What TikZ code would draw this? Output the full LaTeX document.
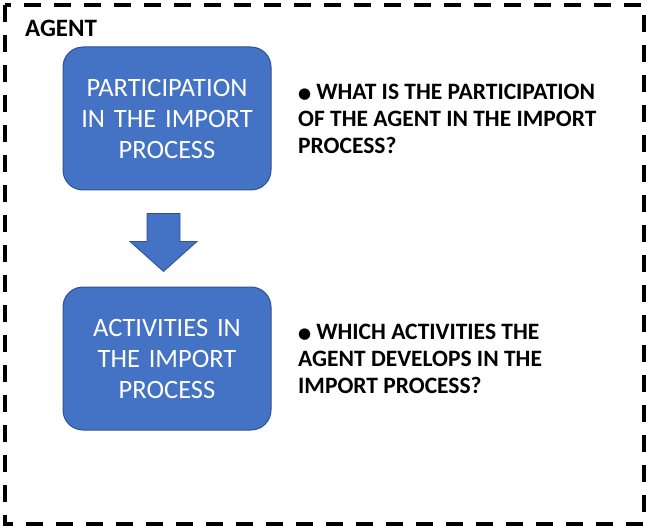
\documentclass[tikz,border=0pt]{standalone}
\usepackage{fontspec}
\setmainfont{Carlito}
\newfontfamily\dvfont{DejaVu Sans}
\usetikzlibrary{calc}
\definecolor{boxfill}{HTML}{4472C4}
\definecolor{boxline}{HTML}{2F528F}
\tikzset{
  bluebox/.style={draw=boxline, line width=1pt, fill=boxfill, rounded corners=20pt,
    minimum width=208pt, minimum height=143pt, text width=206pt, align=center,
    text=white, inner sep=0pt, font=\fontsize{26.5}{31}\selectfont},
  question/.style={anchor=west, align=left, inner sep=0pt,
    font=\bfseries\fontsize{23.5}{27}\selectfont},
  blockarrow/.style={draw=boxline, line width=0.8pt, fill=boxfill},
  frame/.style={draw=black, line width=4.5pt, dash pattern=on 17pt off 13pt}
}
\newcommand{\qbullet}{\raisebox{1.5pt}{\dvfont\fontsize{15}{15}\selectfont ●}\hspace{5pt}}
\begin{document}
\begin{tikzpicture}[x=1pt,y=-1pt]
\useasboundingbox (0,0) rectangle (650,529);
\draw[frame] (5,5) rectangle (644,524);
\node[anchor=west, inner sep=0pt, font=\bfseries\fontsize{25}{28}\selectfont] (agent) at (25,28) {AGENT};
\node[bluebox] (b1) at (167,118.5) {PARTICIPATION\\IN THE IMPORT\\PROCESS};
\node[bluebox] (b2) at (167,358.5) {ACTIVITIES IN\\THE IMPORT\\PROCESS};
\coordinate (arrtop) at ($(b1.south)+(-3.5,23)$);
\coordinate (arrtip) at ($(b2.north)+(-3.5,-15)$);
\draw[blockarrow] ($(arrtop)+(-16.5,0)$) -- ($(arrtop)+(16.5,0)$)
  -- ($(arrtip)+(16.5,-30)$) -- ($(arrtip)+(33.5,-30)$) -- (arrtip)
  -- ($(arrtip)+(-33.5,-30)$) -- ($(arrtip)+(-16.5,-30)$) -- cycle;
\node[question] (q1) at (298,119) {\qbullet WHAT IS THE PARTICIPATION\\OF THE AGENT IN THE IMPORT\\PROCESS?};
\node[question] (q2) at (298,359) {\qbullet WHICH ACTIVITIES THE\\AGENT DEVELOPS IN THE\\IMPORT PROCESS?};
\end{tikzpicture}
\end{document}
